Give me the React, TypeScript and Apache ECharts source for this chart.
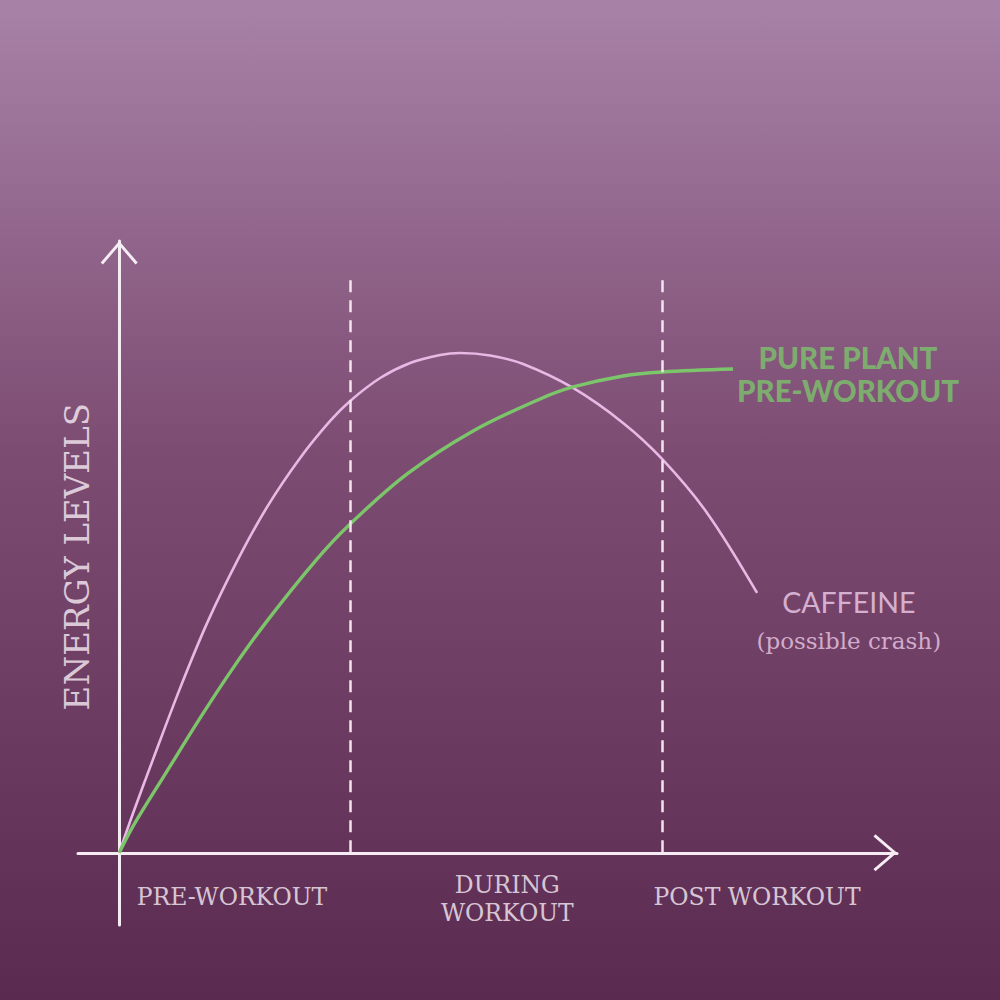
import React, { useEffect, useRef } from "react";
import * as echarts from "echarts";

// Curve data (time units on x, energy units on y)
const caffeineX = [0, 1.8, 4.37, 7.84, 11.31, 15.17, 19.02, 23.26, 27.12, 29.69, 33.55, 37.4, 41.26, 43.83, 47.69, 51.93, 58.35, 64.78, 69.79, 75.58, 82.01];
const caffeineY = [0, 6.54, 15.36, 26.96, 37.58, 47.71, 56.54, 64.54, 70.59, 73.86, 77.61, 80.07, 81.37, 81.7, 81.29, 79.9, 75.98, 70.26, 64.38, 55.56, 42.48];
const plantX = [0, 1.8, 6.17, 10.41, 14.65, 19.02, 25.45, 29.56, 37.02, 45.5, 54.11, 58.35, 64.78, 69.79, 78.92];
const plantY = [0, 4.41, 13.4, 22.06, 30.23, 37.91, 48.04, 53.59, 61.93, 68.95, 74.18, 76.14, 77.94, 78.59, 79.08];

// Phase boundaries (dashed lines)
const phaseBoundaries = [29.7, 69.8];
const boundaryTop = 93.6;

// Phase labels below x axis
const phaseLabels = ["PRE-WORKOUT", "DURING\nWORKOUT", "POST WORKOUT"];
const phaseLabelX = [14.5, 49.9, 82.0];
const phaseLabelY = [-7.3, -7.6, -7.3];

// Series labels
const plantLabelLines = ["PURE PLANT", "PRE-WORKOUT"];
const plantLabelX = 93.7;
const plantLabelY = [80.9, 75.6];
const caffeineLabel = "CAFFEINE";
const caffeineLabelPos = [93.8, 41.0];
const crashLabel = "(possible crash)";
const crashLabelPos = [93.8, 34.6];
const yTitle = "ENERGY LEVELS";
const yTitlePos = [-5.4, 48.4];

const ARROW = "path://M18.5,0 L37,21.6 L34.8,23.5 L18.5,4.4 L2.2,23.5 L0,21.6 Z";
const AXIS_COLOR = "#f6edf4";
const TEXT_COLOR = "#f8eff6";
const CAFFEINE_COLOR = "#e8b9e5";
const PLANT_COLOR = "#7cc56b";

export default function App() {
  const ref = useRef<HTMLDivElement>(null);
  useEffect(() => {
    if (!ref.current) return;
    const chart = echarts.init(ref.current, null, { renderer: "svg" });
    const axisCommon = {
      type: "value" as const,
      axisTick: { show: false },
      axisLabel: { show: false },
      splitLine: { show: false },
    };
    const labelItem = (pos: number[], text: string, style: any) => ({
      value: pos,
      label: { show: true, position: "inside", formatter: text, ...style },
    });
    chart.setOption({
      animation: false,
      backgroundColor: new echarts.graphic.LinearGradient(0, 0, 0, 1, [
        { offset: 0, color: "#a882a7" },
        { offset: 0.45, color: "#7d4c73" },
        { offset: 1, color: "#5b2a50" },
      ]),
      grid: { left: 78, right: 103, top: 241, bottom: 75 },
      xAxis: {
        ...axisCommon,
        min: -5.3,
        max: 100,
        axisLine: {
          onZero: true,
          lineStyle: { color: AXIS_COLOR, width: 3 },
          symbol: ["none", ARROW],
          symbolSize: [37, 23.5],
          symbolOffset: [0, -11.75],
        },
      },
      yAxis: {
        ...axisCommon,
        min: -11.8,
        max: 100,
        axisLine: {
          onZero: true,
          lineStyle: { color: AXIS_COLOR, width: 3 },
          symbol: ["none", ARROW],
          symbolSize: [37, 23.5],
          symbolOffset: [0, -11.75],
        },
      },
      series: [
        {
          type: "line",
          name: "Caffeine",
          data: caffeineX.map((x, i) => [x, caffeineY[i]]),
          smooth: 0.35,
          showSymbol: false,
          silent: true,
          z: 3,
          lineStyle: { color: CAFFEINE_COLOR, width: 2.6 },
          markLine: {
            silent: true,
            symbol: ["none", "none"],
            label: { show: false },
            lineStyle: { color: "#f3e4ef", width: 2.5, type: [12, 8] },
            data: phaseBoundaries.map((x) => [
              { coord: [x, boundaryTop] },
              { coord: [x, 0] },
            ]),
          },
        },
        {
          type: "line",
          name: "Pure Plant Pre-Workout",
          data: plantX.map((x, i) => [x, plantY[i]]),
          smooth: 0.35,
          showSymbol: false,
          silent: true,
          z: 4,
          lineStyle: { color: PLANT_COLOR, width: 3.4 },
        },
        {
          type: "scatter",
          symbolSize: 0,
          silent: true,
          clip: false,
          z: 5,
          data: [
            ...phaseLabels.map((t, i) =>
              labelItem([phaseLabelX[i], phaseLabelY[i]], t, {
                color: TEXT_COLOR,
                fontFamily: "DejaVu Serif",
                fontSize: 23.5,
                lineHeight: 28,
                align: "center",
              })
            ),
            ...plantLabelLines.map((t, i) =>
              labelItem([plantLabelX, plantLabelY[i]], t, {
                color: PLANT_COLOR,
                fontFamily: "Lato",
                fontWeight: 900,
                fontSize: 29.5,
                align: "center",
              })
            ),
            labelItem(caffeineLabelPos, caffeineLabel, {
              color: "#f0d0eb",
              fontFamily: "Lato",
              fontSize: 28.5,
              align: "center",
            }),
            labelItem(crashLabelPos, crashLabel, {
              color: "#eccbe6",
              fontFamily: "DejaVu Serif",
              fontSize: 23,
              align: "center",
            }),
            labelItem(yTitlePos, yTitle, {
              color: TEXT_COLOR,
              fontFamily: "DejaVu Serif",
              fontSize: 34,
              rotate: 90,
            }),
          ],
        },
      ],
    });
    return () => chart.dispose();
  }, []);
  return (
    <div
      ref={ref}
      style={{ position: "absolute", left: 0, top: 0, width: 1000, height: 1000 }}
    />
  );
}
